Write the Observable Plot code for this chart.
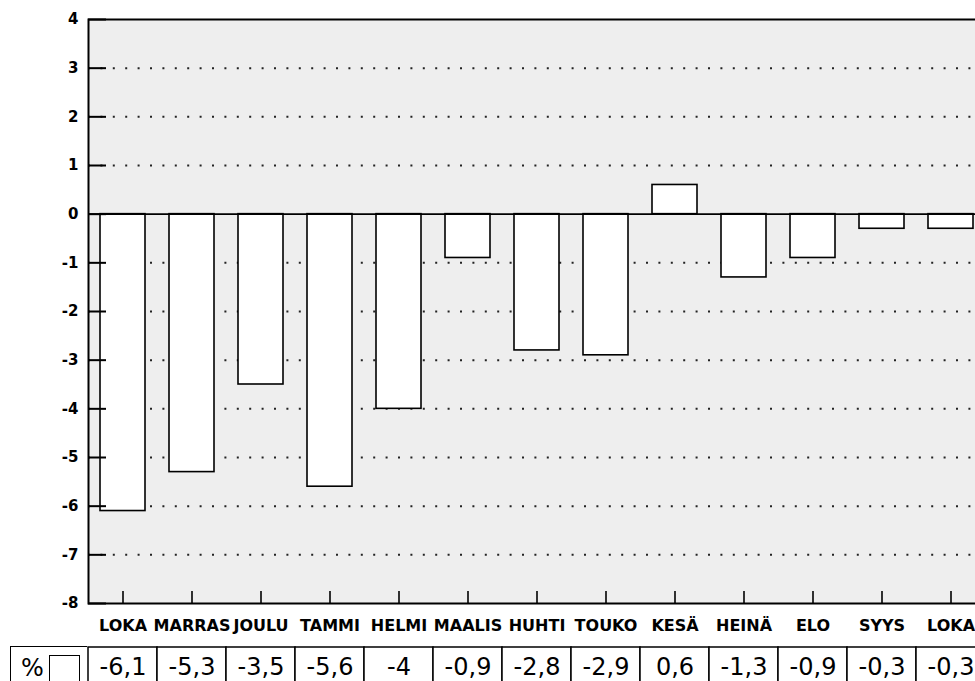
<!DOCTYPE html>
<html>
<head>
<meta charset="utf-8">
<script src="https://cdn.jsdelivr.net/npm/d3@7"></script>
<script src="https://cdn.jsdelivr.net/npm/@observablehq/plot@0.6"></script>
<style>
  html, body { margin: 0; padding: 0; background: white; overflow: hidden; }
  #wrap { position: relative; width: 975px; height: 681px; overflow: hidden; font-family: "DejaVu Sans", sans-serif; }
  #pct { position: absolute; left: 10px; top: 646px; width: 77px; height: 50px;
         border-left: 1.5px solid black; border-top: 1.5px solid black; box-sizing: border-box; }
  #pct span { position: absolute; left: 10px; top: 9px; font-size: 24px; line-height: 24px; }
  #pct i { position: absolute; left: 38px; top: 8px; width: 31px; height: 40px; border: 1.5px solid black; box-sizing: border-box; background: white; }
</style>
</head>
<body>
<div id="wrap"><div id="pct"><span>%</span><i></i></div></div>
<script>
const months = ["LOKA","MARRAS","JOULU","TAMMI","HELMI","MAALIS","HUHTI","TOUKO","KESÄ","HEINÄ","ELO","SYYS","LOKA"];
const values = [-6.1,-5.3,-3.5,-5.6,-4,-0.9,-2.8,-2.9,0.6,-1.3,-0.9,-0.3,-0.3];
const valueLabels = ["-6,1","-5,3","-3,5","-5,6","-4","-0,9","-2,8","-2,9","0,6","-1,3","-0,9","-0,3","-0,3"];
const yTicks = [-8,-7,-6,-5,-4,-3,-2,-1,0,1,2,3,4];
const gridTicks = [-7,-6,-5,-4,-3,-2,-1,1,2,3];

const data = months.map((m, i) => ({i, month: m, value: values[i], label: valueLabels[i]}));
const idx = data.map(d => d.i);
const font = "'DejaVu Sans', sans-serif";

const W = 975, H = 646, mT = 19, mB = 43, mL = 88, mR = -10;
const frameW = W - mL - mR, frameH = H - mT - mB;

const chart = Plot.plot({
  width: W, height: H,
  marginTop: mT, marginBottom: mB, marginLeft: mL, marginRight: mR,
  style: {background: "transparent", fontFamily: font, color: "black", overflow: "hidden"},
  x: {type: "band", domain: idx, paddingInner: 0.348, paddingOuter: 0.174, align: 0.5, axis: null},
  y: {domain: [-8, 4], axis: null},
  marks: [
    Plot.frame({fill: "#eeeeee", stroke: null}),
    Plot.ruleY(gridTicks, {stroke: "#222", strokeWidth: 2, strokeDasharray: "2,10.4"}),
    Plot.barY(data, {x: "i", y: "value", fill: "white", stroke: "black", strokeWidth: 1.6}),
    Plot.ruleY([0], {stroke: "black", strokeWidth: 1.8}),
    Plot.ruleY(yTicks, {stroke: "black", strokeWidth: 2, insetRight: frameW - 18}),
    Plot.text(yTicks, {y: d => d, text: d => String(d), frameAnchor: "left", textAnchor: "end", lineAnchor: "middle", dx: -10, fontSize: 15, fontWeight: "bold", fill: "black"}),
    Plot.ruleX(data, {x: "i", stroke: "black", strokeWidth: 1.6, insetTop: frameH - 12}),
    Plot.text(data, {x: "i", text: "month", frameAnchor: "bottom", lineAnchor: "middle", dy: 22, fontSize: 16, fontWeight: "bold", fill: "black"}),
    Plot.frame({stroke: "black", strokeWidth: 2, fill: null})
  ]
});

const table = Plot.plot({
  width: W, height: 50,
  marginTop: 1, marginBottom: 0, marginLeft: mL, marginRight: mR,
  style: {background: "transparent", fontFamily: font, color: "black"},
  x: {type: "band", domain: idx, padding: 0, axis: null},
  marks: [
    Plot.cell(data, {x: "i", fill: "white", stroke: "black", strokeWidth: 1.5}),
    Plot.text(data, {x: "i", text: "label", fontSize: 24, fill: "black", dy: -5})
  ]
});

const wrap = document.getElementById("wrap");
chart.style.position = "absolute"; chart.style.left = "0px"; chart.style.top = "0px";
table.style.position = "absolute"; table.style.left = "0px"; table.style.top = "646px";
wrap.insertBefore(chart, wrap.firstChild);
wrap.insertBefore(table, chart.nextSibling);
</script>
</body>
</html>
